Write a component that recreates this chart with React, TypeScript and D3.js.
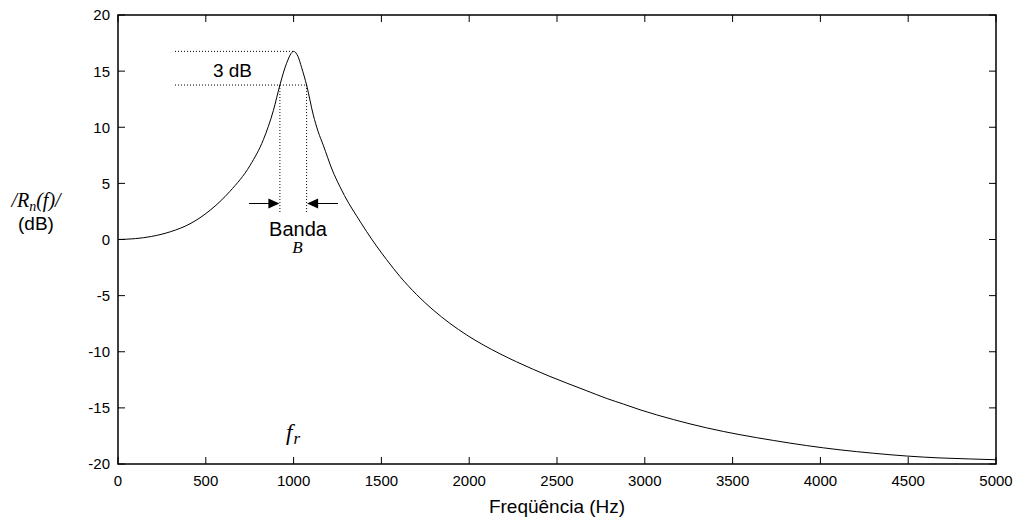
import React from "react";
import * as d3 from "d3";

const freqs = [0, 100, 190, 300, 410, 524, 638, 752, 828, 885, 922, 960, 1000, 1025, 1046, 1074, 1112, 1140, 1169, 1220, 1264, 1315, 1359, 1416, 1473, 1530, 1606, 1700, 1795, 1890, 1986, 2080, 2175, 2270, 2365, 2460, 2555, 2670, 2783, 2880, 2973, 3163, 3352, 3542, 3732, 3922, 4112, 4301, 4491, 4681, 4850, 5000];
const magDb = [0, 0.08, 0.27, 0.7, 1.4, 2.6, 4.3, 6.6, 8.9, 11.5, 13.76, 15.7, 16.76, 16.3, 15.3, 13.76, 11.1, 9.6, 8.4, 6.2, 4.7, 3.2, 2.1, 0.7, -0.6, -1.8, -3.3, -4.9, -6.28, -7.47, -8.51, -9.39, -10.18, -10.9, -11.57, -12.2, -12.79, -13.48, -14.16, -14.67, -15.17, -16.04, -16.78, -17.39, -17.9, -18.36, -18.74, -19.04, -19.29, -19.46, -19.55, -19.62];
const xTicks = [0, 500, 1000, 1500, 2000, 2500, 3000, 3500, 4000, 4500, 5000];
const yTicks = [20, 15, 10, 5, 0, -5, -10, -15, -20];
const peakDb = 16.76;
const bandLow = 922;
const bandHigh = 1074;

export default function App() {
  const left = 118, right = 996, top = 15, bottom = 464;
  const x = d3.scaleLinear().domain([0, 5000]).range([left, right]);
  const y = d3.scaleLinear().domain([-20, 20]).range([bottom, top]);
  const pts: [number, number][] = freqs.map((f, i) => [f, magDb[i]]);
  const line = d3.line<[number, number]>().x(d => x(d[0])).y(d => y(d[1])).curve(d3.curveMonotoneX);
  const tick = 7;
  const fontA = "Arial, 'Liberation Sans', sans-serif";
  const fontT = "'Times New Roman', 'Liberation Serif', serif";
  const halfLow = peakDb - 3;
  const dotStart = 175;
  const arrowY = 203.5;
  const xl = x(bandLow), xh = x(bandHigh);
  return (
    <svg width={1019} height={525} style={{ position: "absolute", left: 0, top: 0 }}>
      <rect width={1019} height={525} fill="#fff" />
      {xTicks.map(t => (
        <g key={"x" + t}>
          <line x1={x(t)} x2={x(t)} y1={bottom} y2={bottom - tick} stroke="#000" strokeWidth={1} />
          <line x1={x(t)} x2={x(t)} y1={top} y2={top + tick} stroke="#000" strokeWidth={1} />
          <text x={x(t)} y={486} textAnchor="middle" fontFamily={fontA} fontSize={15}>{t}</text>
        </g>
      ))}
      {yTicks.map(t => (
        <g key={"y" + t}>
          <line x1={left} x2={left + tick} y1={y(t)} y2={y(t)} stroke="#000" strokeWidth={1} />
          <line x1={right} x2={right - tick} y1={y(t)} y2={y(t)} stroke="#000" strokeWidth={1} />
          <text x={110} y={y(t) + 5.4} textAnchor="end" fontFamily={fontA} fontSize={15}>{t}</text>
        </g>
      ))}
      <rect x={left} y={top} width={right - left} height={bottom - top} fill="none" stroke="#000" strokeWidth={1.5} />
      <path d={line(pts) || ""} fill="none" stroke="#000" strokeWidth={1} />
      <line x1={dotStart} x2={x(1000)} y1={y(peakDb)} y2={y(peakDb)} stroke="#000" strokeWidth={1} strokeDasharray="1,2" />
      <line x1={dotStart} x2={xh} y1={y(halfLow)} y2={y(halfLow)} stroke="#000" strokeWidth={1} strokeDasharray="1,2" />
      <line x1={xl} x2={xl} y1={y(halfLow)} y2={213} stroke="#000" strokeWidth={1} strokeDasharray="1,2" />
      <line x1={xh} x2={xh} y1={y(halfLow)} y2={213} stroke="#000" strokeWidth={1} strokeDasharray="1,2" />
      <text x={232.5} y={77} textAnchor="middle" fontFamily={fontA} fontSize={19}>3 dB</text>
      <line x1={249} x2={xl - 9} y1={arrowY} y2={arrowY} stroke="#000" strokeWidth={1} />
      <path d={`M${xl - 0.5},${arrowY} l-11,-5 l0,10 z`} fill="#000" />
      <line x1={338} x2={xh + 9} y1={arrowY} y2={arrowY} stroke="#000" strokeWidth={1} />
      <path d={`M${xh + 0.5},${arrowY} l11,-5 l0,10 z`} fill="#000" />
      <text x={298} y={236} textAnchor="middle" fontFamily={fontA} fontSize={20}>Banda</text>
      <text x={297.5} y={253} textAnchor="middle" fontFamily={fontT} fontStyle="italic" fontSize={17}>B</text>
      <text x={286} y={440} fontFamily={fontT} fontStyle="italic" fontSize={23}>f<tspan fontSize={17} dx={1} dy={4}>r</tspan></text>
      <text x={36} y={207} textAnchor="middle" fontFamily={fontT} fontStyle="italic" fontSize={20}>/R<tspan fontSize={14} dy={4}>n</tspan><tspan dy={-4}>(f)/</tspan></text>
      <text x={36} y={230} textAnchor="middle" fontFamily={fontA} fontSize={19}>(dB)</text>
      <text x={557} y={513} textAnchor="middle" fontFamily={fontA} fontSize={19}>Freqüência (Hz)</text>
    </svg>
  );
}
